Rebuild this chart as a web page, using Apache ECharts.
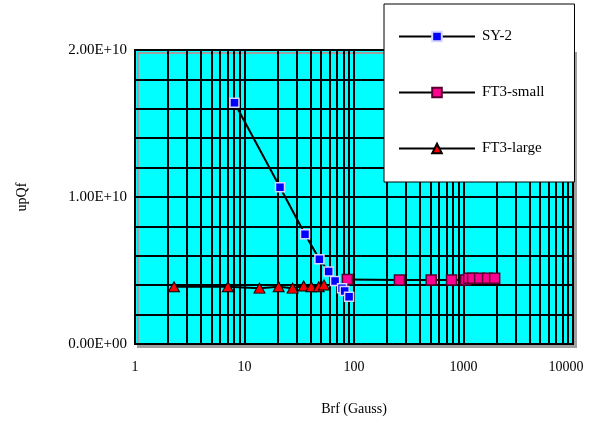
<!DOCTYPE html>
<html><head><meta charset="utf-8">
<script src="https://cdn.jsdelivr.net/npm/echarts@6/dist/echarts.min.js"></script>
<style>html,body{margin:0;padding:0;background:#fff}#c{width:589px;height:421px}</style>
</head><body><div id="c"></div>
<script>
// ---- data ----
const seriesNames = ['SY-2', 'FT3-small', 'FT3-large'];
const sy2X = [8.1, 21.1, 35.7, 48.3, 58.7, 67.2, 77.8, 82.2, 90.2];
const sy2Y = [1.641e10, 1.066e10, 7.46e9, 5.76e9, 4.93e9, 4.29e9, 3.80e9, 3.61e9, 3.21e9];
const ft3SmallX = [87, 260, 507, 778, 1045, 1114, 1211, 1404, 1660, 1926];
const ft3SmallY = [4.39e9, 4.36e9, 4.36e9, 4.36e9, 4.36e9, 4.47e9, 4.47e9, 4.47e9, 4.47e9, 4.47e9];
const ft3LargeX = [2.27, 7.05, 13.7, 20.5, 27.5, 34.7, 40.7, 47.6, 53.2];
const ft3LargeY = [3.89e9, 3.89e9, 3.80e9, 3.89e9, 3.80e9, 3.95e9, 3.89e9, 3.89e9, 4.02e9];
const xMinorGrid = [2,3,4,5,6,7,8,9,20,30,40,50,60,70,80,90,200,300,400,500,600,700,800,900,2000,3000,4000,5000,6000,7000,8000,9000];
const yLabelValues = [0, 1e10, 2e10];
const yLabelTexts = ['0.00E+00', '1.00E+10', '2.00E+10'];
const xAxisName = 'Brf (Gauss)';
const yAxisName = 'upQf';

const zip = (xs, ys) => xs.map((x, i) => [x, ys[i]]);
const font = 'Liberation Serif, Times New Roman, serif';

const chart = echarts.init(document.getElementById('c'), null, {renderer: 'canvas'});
chart.setOption({
  animation: false,
  backgroundColor: '#fff',
  grid: {
    left: 135, right: 16, top: 50, bottom: 76,
    show: true, backgroundColor: '#00ffff', borderColor: '#000', borderWidth: 2,
    shadowColor: '#a0a0a0', shadowOffsetX: 3, shadowOffsetY: 3, shadowBlur: 0
  },
  legend: {
    orient: 'vertical', left: 384, top: 4, z: 20,
    padding: [25, 30, 26, 14],
    itemWidth: 76, itemHeight: 12, itemGap: 41,
    backgroundColor: '#fff', borderColor: '#000', borderWidth: 1,
    textStyle: {fontFamily: font, fontSize: 15, color: '#000', padding: [0, 0, 0, 2]},
    data: seriesNames
  },
  xAxis: {
    type: 'log', logBase: 10, min: 1, max: 10000,
    name: xAxisName, nameLocation: 'middle', nameGap: 58,
    nameTextStyle: {fontFamily: font, fontSize: 14, color: '#000'},
    axisLine: {show: true, lineStyle: {color: '#000', width: 2}},
    axisTick: {show: false},
    axisLabel: {
      fontFamily: font, fontSize: 14, color: '#000', margin: 16,
      formatter: v => v >= 10000 ? '{r|' + v + '}' : String(v),
      rich: {r: {fontFamily: font, fontSize: 14, color: '#000', padding: [0, 14, 0, 0]}}
    },
    splitLine: {show: true, lineStyle: {color: '#000', width: 2}}
  },
  yAxis: {
    type: 'value', min: 0, max: 2e10, interval: 2e9,
    name: yAxisName, nameLocation: 'middle', nameGap: 106, nameRotate: 90,
    nameTextStyle: {fontFamily: font, fontSize: 14, color: '#000'},
    axisLine: {show: true, lineStyle: {color: '#000', width: 2}},
    axisTick: {show: false},
    axisLabel: {
      fontFamily: font, fontSize: 15, color: '#000', margin: 8,
      formatter: v => { const i = yLabelValues.indexOf(v); return i >= 0 ? yLabelTexts[i] : ''; }
    },
    splitLine: {show: true, lineStyle: {color: '#000', width: 2}}
  },
  series: [
    {
      name: '_minor', type: 'line', data: [], z: 1, silent: true,
      markLine: {
        silent: true, z: 1, symbol: ['none', 'none'], label: {show: false},
        lineStyle: {color: '#000', width: 2, type: 'solid'},
        data: xMinorGrid.map(v => ({xAxis: v}))
      }
    },
    {
      name: seriesNames[0], type: 'line', z: 4,
      data: zip(sy2X, sy2Y),
      symbol: 'rect', symbolSize: 9,
      lineStyle: {color: '#000', width: 2},
      itemStyle: {color: '#0000ff', borderColor: '#d8d8ff', borderWidth: 1.5}
    },
    {
      name: seriesNames[1], type: 'line', z: 3,
      data: zip(ft3SmallX, ft3SmallY),
      symbol: 'rect', symbolSize: 10,
      lineStyle: {color: '#000', width: 2},
      itemStyle: {color: '#ff0090', borderColor: '#5a0030', borderWidth: 1.5}
    },
    {
      name: seriesNames[2], type: 'line', z: 3,
      data: zip(ft3LargeX, ft3LargeY),
      symbol: 'triangle', symbolSize: [11, 10],
      lineStyle: {color: '#000', width: 2},
      itemStyle: {color: '#ff0000', borderColor: '#000', borderWidth: 1}
    }
  ]
});
</script></body></html>
